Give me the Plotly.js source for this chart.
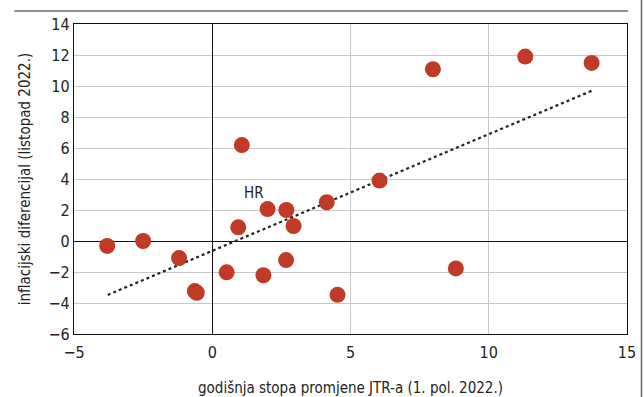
<!DOCTYPE html>
<html><head><meta charset="utf-8">
<script src="https://cdn.plot.ly/plotly-3.0.1.min.js"></script>
<style>html,body{margin:0;padding:0;background:#fff;}#chart{width:644px;height:397px;}</style>
</head><body><div id="chart"></div>
<script>
// JTR growth rate (x) vs inflation differential (y)
const countryX = [-3.8, -2.5, -1.2, -0.63, -0.56, 0.52, 0.94, 1.07, 2.0, 1.85, 2.68, 2.67, 2.94, 4.14, 4.53, 6.05, 7.98, 8.81, 11.32, 13.72];
const countryY = [-0.32, 0.0, -1.1, -3.23, -3.34, -2.02, 0.88, 6.19, 2.06, -2.21, 2.0, -1.23, 0.97, 2.5, -3.47, 3.9, 11.08, -1.77, 11.9, 11.49];
const trendX = [-3.78, 13.72];
const trendY = [-3.48, 9.69];
const labelText = "HR";
const labelX = 1.52, labelY = 3.1;
const xTicks = [-5, 0, 5, 10, 15];
const yTicks = [-6, -4, -2, 0, 2, 4, 6, 8, 10, 12, 14];

const FONT = "'Liberation Sans Narrow', 'DejaVu Sans Condensed', 'Roboto Condensed', Arial, sans-serif";

const data = [
  {x: trendX, y: trendY, mode: 'lines', type: 'scatter',
   line: {color: '#222', width: 2.2, dash: 'dot'}, hoverinfo: 'skip'},
  {x: countryX, y: countryY, mode: 'markers', type: 'scatter',
   marker: {color: '#c13a26', size: 16, line: {width: 0}}}
];

const layout = {
  width: 644, height: 397,
  margin: {l: 74, r: 17, t: 24, b: 63},
  paper_bgcolor: '#fff', plot_bgcolor: '#fff',
  showlegend: false,
  font: {family: FONT, size: 16, color: '#222'},
  xaxis: {range: [-5, 15], tickvals: xTicks, showgrid: true, gridcolor: '#c8c8c8', gridwidth: 1,
          zeroline: true, zerolinecolor: '#111', zerolinewidth: 1,
          showline: true, linecolor: '#111', linewidth: 1.2, mirror: true,
          ticks: '', ticklabelstandoff: 4,
          title: {text: 'godišnja stopa promjene JTR-a (1. pol. 2022.)', font: {size: 15, family: FONT, color: '#222'}, standoff: 24}},
  yaxis: {range: [-6, 14], tickvals: yTicks, showgrid: true, gridcolor: '#c8c8c8', gridwidth: 1,
          zeroline: true, zerolinecolor: '#111', zerolinewidth: 1,
          showline: true, linecolor: '#111', linewidth: 1.2, mirror: true,
          ticks: '',
          title: {text: 'inflacijski diferencijal (listopad 2022.)', font: {size: 15, family: FONT, color: '#222'}, standoff: 14}},
  annotations: [{x: labelX, y: labelY, xref: 'x', yref: 'y', text: labelText, showarrow: false,
                 font: {size: 15, family: FONT, color: '#222'}}],
  shapes: [
    {type: 'line', xref: 'paper', yref: 'paper', x0: -0.108, x1: 1.002, y0: 1.042, y1: 1.042,
     line: {color: '#222', width: 1.2}},
    {type: 'line', xref: 'paper', yref: 'paper', x0: 1.0262, x1: 1.0262, y0: -0.21, y1: 1.08,
     line: {color: '#666', width: 1.5}}
  ]
};

Plotly.newPlot('chart', data, layout, {displayModeBar: false, staticPlot: true});
</script></body></html>
